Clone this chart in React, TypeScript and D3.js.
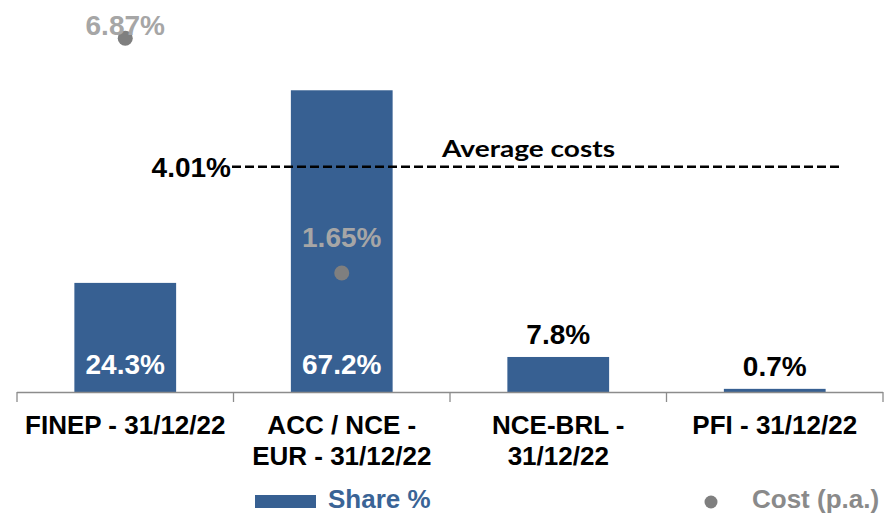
import React from "react";
import * as d3 from "d3";

const categories = ["FINEP - 31/12/22", "ACC / NCE - EUR - 31/12/22", "NCE-BRL - 31/12/22", "PFI - 31/12/22"];
const categoryLines = [["FINEP - 31/12/22"], ["ACC / NCE -", "EUR - 31/12/22"], ["NCE-BRL -", "31/12/22"], ["PFI - 31/12/22"]];
const shareValues = [24.3, 67.2, 7.8, 0.7];
const shareLabels = ["24.3%", "67.2%", "7.8%", "0.7%"];
const costCategories = ["FINEP - 31/12/22", "ACC / NCE - EUR - 31/12/22"];
const costValues = [6.87, 1.65];
const costLabels = ["6.87%", "1.65%"];
const averageCost = 4.01;
const averageLabel = "4.01%";
const averageText = "Average costs";

const W = 884;
const H = 514;
const BAR = "#376092";
const FONT = "'Liberation Sans', Arial, sans-serif";

export default function App() {
  const x = d3.scaleBand<string>().domain(categories).range([17, 883]).paddingInner(0.53).paddingOuter(0.265);
  const xOuter = d3.scaleBand<string>().domain(categories).range([17, 883]);
  const yShare = d3.scaleLinear().domain([0, 80]).range([392, 392 - 80 * 4.49]);
  const yCost = d3.scaleLinear().domain([0, 8]).range([347.3, 347.3 - 8 * 45]);
  const baseY = yShare(0);
  const ticks = categories.map((c) => xOuter(c)!).concat([883]);
  const avgY = yCost(averageCost);

  return (
    <svg width={W} height={H} style={{ position: "absolute", left: 0, top: 0, background: "#fff" }} fontFamily={FONT}>
      {categories.map((c, i) => {
        const v = shareValues[i];
        const bx = x(c)!;
        const top = yShare(v);
        const cx = bx + x.bandwidth() / 2;
        const inside = v > 20;
        return (
          <g key={c}>
            <rect x={bx} y={top} width={x.bandwidth()} height={baseY - top} fill={BAR} />
            <text
              x={cx}
              y={inside ? baseY - 18 : top - 13}
              textAnchor="middle"
              fontSize={28}
              fontWeight="bold"
              fill={inside ? "#fff" : "#000"}
            >
              {shareLabels[i]}
            </text>
          </g>
        );
      })}
      <line x1={17} x2={883} y1={baseY + 0.5} y2={baseY + 0.5} stroke="#8c8c8c" strokeWidth={1.3} />
      {ticks.map((t, i) => (
        <line key={i} x1={t} x2={t} y1={baseY} y2={baseY + 10} stroke="#8c8c8c" strokeWidth={1.3} />
      ))}
      {categories.map((c, i) => {
        const cx = xOuter(c)! + xOuter.bandwidth() / 2;
        return (
          <text key={c} textAnchor="middle" fontSize={26} fontWeight="bold" fill="#000">
            {categoryLines[i].map((l, j) => (
              <tspan key={j} x={cx} y={434 + j * 31}>
                {l}
              </tspan>
            ))}
          </text>
        );
      })}
      <line x1={232} x2={843} y1={avgY} y2={avgY} stroke="#000" strokeWidth={2.5} strokeDasharray="9,4" />
      <text x={231} y={avgY + 10} textAnchor="end" fontSize={28} fontWeight="bold" fill="#000">
        {averageLabel}
      </text>
      <text
        x={442}
        y={avgY - 10}
        fontSize={23}
        fontWeight="bold"
        fill="#000"
        fontFamily="Lato, 'Open Sans', sans-serif"
        textLength={173}
        lengthAdjust="spacingAndGlyphs"
      >
        {averageText}
      </text>
      {costCategories.map((c, i) => {
        const cx = xOuter(c)! + xOuter.bandwidth() / 2;
        const cy = yCost(costValues[i]);
        return (
          <g key={c}>
            <circle cx={cx} cy={cy} r={7.5} fill="#7f7f7f" />
            <text x={cx} y={i === 0 ? cy - 3 : cy - 26} textAnchor="middle" fontSize={28} fontWeight="bold" fill="#a6a6a6">
              {costLabels[i]}
            </text>
          </g>
        );
      })}
      <rect x={255} y={495} width={61} height={13} fill={BAR} />
      <text x={328} y={508} fontSize={26} fontWeight="bold" fill="#3a6496">
        Share %
      </text>
      <circle cx={711} cy={502} r={6.5} fill="#7f7f7f" />
      <text x={752} y={508} fontSize={26} fontWeight="bold" fill="#8a8a8a">
        Cost (p.a.)
      </text>
    </svg>
  );
}
